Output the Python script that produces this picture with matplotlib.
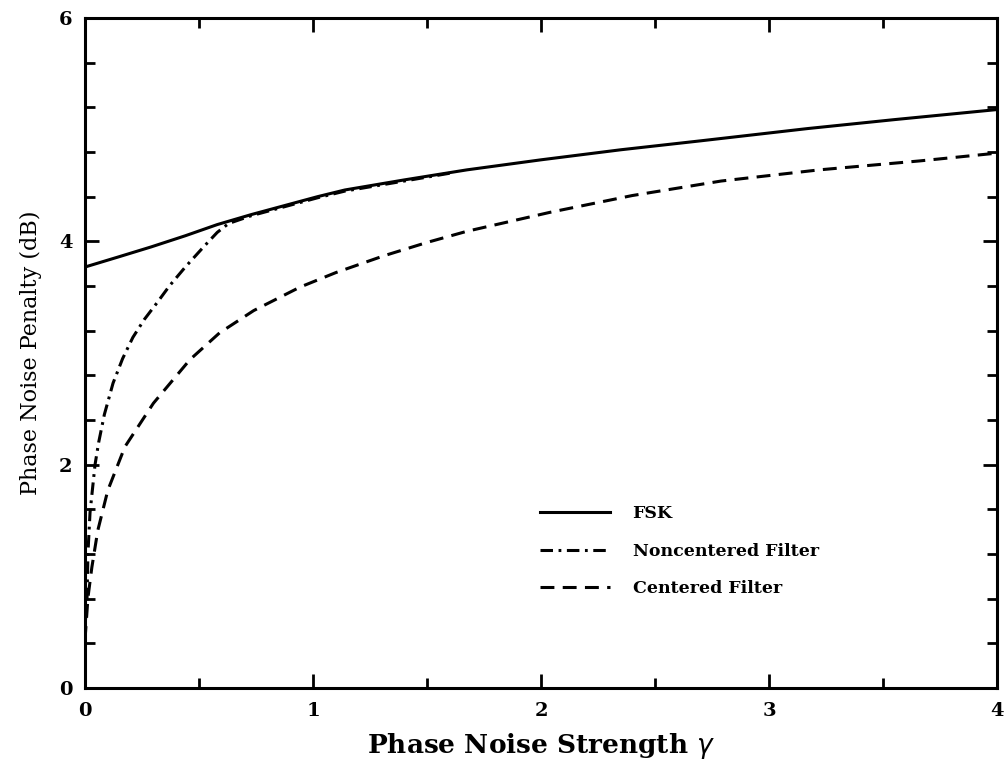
import numpy as np
import matplotlib
matplotlib.use("Agg")
import matplotlib.pyplot as plt
from matplotlib.ticker import MultipleLocator

OUT_PATH = "out.png"

# values
fsk_x = [0.0, 0.146, 0.29, 0.44, 0.58, 0.73, 0.875, 1.02, 1.14, 1.4, 1.675,
         2.0, 2.35, 2.7, 3.17, 3.55, 4.0]
fsk_y = [3.77, 3.86, 3.95, 4.05, 4.15, 4.24, 4.32, 4.40, 4.46, 4.55, 4.64,
         4.73, 4.82, 4.90, 5.01, 5.09, 5.18]

noncent_x = [0.0, 0.009, 0.013, 0.022, 0.044, 0.06, 0.085, 0.123, 0.165, 0.21,
             0.26, 0.316, 0.37, 0.44, 0.52, 0.58, 0.63, 0.73, 0.875, 1.02,
             1.14, 1.4, 1.6]
noncent_y = [0.55, 0.81, 1.21, 1.57, 2.00, 2.20, 2.45, 2.73, 2.95, 3.14,
             3.30, 3.45, 3.60, 3.77, 3.95, 4.08, 4.16, 4.23, 4.31, 4.39,
             4.45, 4.54, 4.61]

cent_x = [0.0, 0.013, 0.03, 0.056, 0.10, 0.175, 0.30, 0.46, 0.59, 0.74, 0.943,
          1.1, 1.31, 1.5, 1.675, 2.04, 2.40, 2.79, 3.22, 3.66, 4.0]
cent_y = [0.43, 0.81, 1.08, 1.41, 1.77, 2.16, 2.55, 2.94, 3.18, 3.38, 3.59,
          3.72, 3.87, 3.99, 4.09, 4.26, 4.41, 4.54, 4.64, 4.72, 4.79]

labels = ["FSK", "Noncentered Filter", "Centered Filter"]
x_ticks = [0, 1, 2, 3, 4]
y_ticks = [0, 2, 4, 6]

plt.rcParams["lines.scale_dashes"] = False

fig = plt.figure(figsize=(10.06, 7.63), dpi=100)
ax = fig.add_axes([85 / 1006, 75 / 763, 912 / 1006, 670 / 763])

lw = 2.2
ax.plot(fsk_x, fsk_y, color="black", linewidth=lw, label=labels[0])
ax.plot(noncent_x, noncent_y, color="black", linewidth=lw,
        linestyle=(0, (9, 4, 2, 4)), label=labels[1])
ax.plot(cent_x, cent_y, color="black", linewidth=lw,
        linestyle=(0, (10, 6)), label=labels[2])

ax.set_xlim(0, 4)
ax.set_ylim(0, 6)
ax.set_xticks(x_ticks)
ax.set_yticks(y_ticks)
ax.xaxis.set_minor_locator(MultipleLocator(0.5))
ax.yaxis.set_minor_locator(MultipleLocator(0.4))
ax.tick_params(which="both", direction="in", top=True, right=True, width=2)
ax.tick_params(which="major", length=10, labelsize=14)
ax.tick_params(which="minor", length=7)
ax.tick_params(axis="x", which="major", pad=10)
ax.tick_params(axis="y", which="major", pad=9)
for lab in ax.get_xticklabels() + ax.get_yticklabels():
    lab.set_fontweight("bold")
    lab.set_family("DejaVu Serif")
for sp in ax.spines.values():
    sp.set_linewidth(2.2)

ax.set_xlabel("Phase Noise Strength $\\gamma$", fontsize=19, family="DejaVu Serif",
              fontweight="bold", labelpad=8)
ax.set_ylabel("Phase Noise Penalty (dB)", fontsize=16, family="DejaVu Serif", labelpad=12)

leg = ax.legend(loc="upper left", bbox_to_anchor=(0.482, 0.296), frameon=False,
                handlelength=4.0, handletextpad=1.32, labelspacing=1.17,
                prop={"family": "DejaVu Serif", "weight": "bold", "size": 12.5})

fig.savefig(OUT_PATH, dpi=100)
